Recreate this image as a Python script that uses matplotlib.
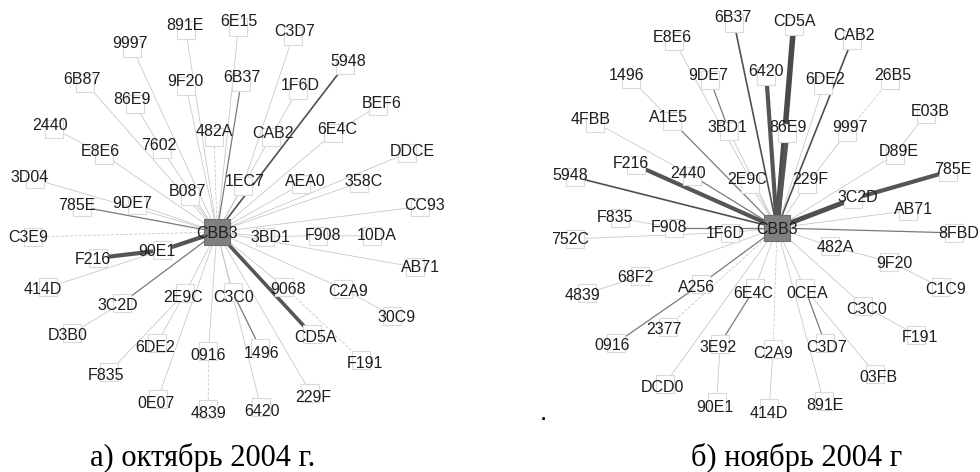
import numpy as np
import matplotlib.pyplot as plt
from matplotlib.patches import Rectangle

# --- данные: подписи узлов и их положение (пиксели исходной картинки) ---
hub = 'CBB3'

oct_names = ['891E', '6E15', 'C3D7', '9997', '5948', '9F20', '6B37', '1F6D', '6B87', '86E9',
             'BEF6', '2440', '482A', 'CAB2', '6E4C', '7602', 'E8E6', 'DDCE', '3D04', 'B087',
             '1EC7', 'AEA0', '358C', '9DE7', 'CC93', '785E', 'C3E9', '3BD1', 'F908', '10DA',
             'F216', '90E1', 'AB71', '414D', '9068', 'C2A9', '3C2D', '2E9C', 'C3C0', '30C9',
             'D3B0', '6DE2', '0916', '1496', 'CD5A', 'F191', 'F835', '0E07', '229F', '4839',
             '6420', hub]
oct_x = [185, 239, 295, 130, 348, 185, 242, 300, 82, 132,
         382, 50, 214, 273, 337, 159, 100, 412, 30, 187,
         245, 305, 364, 132, 425, 77, 28, 270, 323, 377,
         93, 157, 420, 43, 288, 348, 118, 183, 234, 397,
         68, 155, 208, 262, 315, 365, 106, 156, 313, 208,
         262, 217]
oct_y = [25, 22, 31, 43, 61, 81, 77, 86, 79, 100,
         103, 126, 132, 133, 130, 145, 152, 151, 178, 192,
         182, 182, 181, 203, 206, 206, 237, 237, 236, 236,
         259, 252, 268, 289, 290, 291, 306, 297, 297, 318,
         336, 347, 356, 353, 338, 363, 376, 404, 397, 414,
         412, 232]

# связи: (откуда, куда, вес, пунктир)
oct_edges = [('891E', hub, 1, 0), ('6E15', hub, 1, 0), ('C3D7', '1EC7', 1, 0), ('9997', hub, 1, 0),
             ('5948', hub, 2.5, 0), ('9F20', hub, 1, 0), ('6B37', hub, 2, 0), ('1F6D', 'CAB2', 1, 0),
             ('CAB2', hub, 1, 0), ('6B87', hub, 1, 0), ('86E9', '7602', 1, 0), ('7602', hub, 1, 0),
             ('BEF6', '6E4C', 1, 0), ('2440', 'E8E6', 1, 0), ('E8E6', hub, 1, 0), ('482A', hub, 1, 1),
             ('6E4C', hub, 1, 0), ('DDCE', hub, 1, 0), ('3D04', hub, 1, 0), ('B087', hub, 1, 0),
             ('1EC7', hub, 1, 0), ('AEA0', hub, 1, 0), ('358C', hub, 1, 0), ('9DE7', hub, 1, 0),
             ('CC93', hub, 1, 0), ('785E', hub, 2, 0), ('C3E9', hub, 1, 1), ('3BD1', hub, 1, 0),
             ('F908', '3BD1', 1, 0), ('10DA', 'F908', 1, 0), ('F216', '90E1', 4, 0), ('90E1', hub, 4, 0),
             ('AB71', hub, 1, 0), ('414D', '90E1', 1, 0), ('9068', hub, 1, 0), ('F191', '9068', 1, 1),
             ('C2A9', hub, 1, 0), ('30C9', 'C2A9', 1, 0), ('3C2D', hub, 2, 0), ('D3B0', '3C2D', 1, 0),
             ('2E9C', hub, 1, 0), ('6DE2', '2E9C', 1, 0), ('F835', '2E9C', 1, 0), ('C3C0', hub, 1, 0),
             ('1496', 'C3C0', 2, 0), ('0916', hub, 1, 0), ('4839', '0916', 1, 1), ('CD5A', hub, 3.5, 0),
             ('229F', hub, 1, 0), ('0E07', hub, 1, 0), ('6420', hub, 1, 0)]

nov_names = ['6B37', 'CD5A', 'CAB2', 'E8E6', '1496', '9DE7', '6420', '6DE2', '26B5', 'E03B',
             '4FBB', 'A1E5', '3BD1', '86E9', '9997', 'D89E', 'F216', '2440', '5948', '2E9C',
             '229F', '785E', '3C2D', 'AB71', 'F835', 'F908', '752C', '1F6D', '8FBD', '482A',
             '9F20', 'C1C9', '68F2', 'A256', '4839', '6E4C', '0CEA', 'C3C0', '2377', '0916',
             '3E92', 'C2A9', 'C3D7', 'F191', '03FB', 'DCD0', '90E1', '414D', '891E', hub]
nov_x = [733, 794, 854, 672, 627, 708, 766, 825, 893, 930,
         591, 668, 727, 788, 850, 899, 631, 688, 570, 747,
         810, 953, 858, 913, 615, 669, 570, 725, 959, 835,
         894, 946, 635, 697, 582, 753, 807, 867, 664, 612,
         718, 773, 827, 920, 878, 662, 715, 769, 825, 777]
nov_y = [18, 21, 35, 37, 75, 75, 71, 80, 76, 111,
         120, 117, 127, 128, 128, 152, 163, 173, 176, 180,
         180, 170, 197, 210, 218, 228, 239, 233, 233, 248,
         263, 289, 278, 287, 295, 293, 293, 309, 330, 346,
         348, 354, 348, 338, 378, 388, 407, 413, 406, 228]

nov_edges = [('E8E6', hub, 1, 0), ('9DE7', '3BD1', 2, 0), ('3BD1', hub, 1, 0), ('1496', 'A1E5', 1, 0),
             ('A1E5', hub, 2, 0), ('4FBB', '2440', 1, 0), ('2440', hub, 2, 0), ('F216', hub, 4, 0),
             ('5948', hub, 2.5, 0), ('6B37', hub, 2.5, 0), ('CD5A', hub, 5, 0), ('6420', hub, 4, 0),
             ('CAB2', hub, 2.5, 0), ('6DE2', hub, 1, 0), ('26B5', '9997', 1, 1), ('9997', '229F', 1, 0),
             ('229F', hub, 1, 0), ('86E9', hub, 4, 0), ('E03B', 'D89E', 1, 0), ('D89E', hub, 1, 0),
             ('785E', '3C2D', 4, 0), ('3C2D', hub, 4.5, 0), ('AB71', hub, 1, 0), ('2E9C', hub, 1, 0),
             ('8FBD', hub, 2, 0), ('482A', hub, 1, 0), ('9F20', '482A', 1, 0), ('C1C9', '9F20', 1, 0),
             ('C3C0', hub, 1, 0), ('F191', 'C3C0', 1, 0), ('03FB', '0CEA', 1, 0), ('C3D7', '0CEA', 2, 0),
             ('0CEA', hub, 1, 0), ('891E', hub, 1, 0), ('C2A9', hub, 1, 1), ('414D', 'C2A9', 1, 0),
             ('6E4C', hub, 1, 0), ('3E92', '6E4C', 2, 0), ('90E1', '3E92', 1, 0), ('DCD0', hub, 1, 0),
             ('A256', hub, 2, 0), ('0916', 'A256', 2, 0), ('2377', hub, 1, 1), ('68F2', hub, 1, 0),
             ('4839', '68F2', 1, 0), ('1F6D', hub, 1, 0), ('F908', hub, 2, 0), ('F835', 'F908', 1, 0),
             ('752C', '1F6D', 1, 0)]

captions = ['а) октябрь 2004 г.', 'б) ноябрь 2004 г']
caption_x = [203, 797]

# --- рисунок в пикселях ---
W, H = 980, 472
fig = plt.figure(figsize=(W / 100, H / 100), dpi=100)
ax = fig.add_axes([0, 0, 1, 1])
ax.set_xlim(0, W)
ax.set_ylim(H, 0)
ax.axis('off')

BOX = 18      # размер квадратика узла
HUB_BOX = 26
SHIFT = 5     # подпись сдвинута наружу от узла

# вес связи -> (толщина, серый)
STYLE = {1: (0.55, '#c4c4c4'), 2: (0.9, '#7a7a7a'), 2.5: (1.2, '#505050'),
         3.5: (2.6, '#555555'), 4: (3.0, '#555555'), 4.5: (3.6, '#4f4f4f'), 5: (4.0, '#4a4a4a')}


def draw_net(names, xs, ys, edges):
    lab = {n: np.array([x, y], float) for n, x, y in zip(names, xs, ys)}
    c = lab[hub]
    node = {}
    for n, p in lab.items():
        if n == hub:
            node[n] = p
            continue
        d = p - c
        node[n] = p - SHIFT * d / np.linalg.norm(d)

    for a, b, w, dash in edges:
        pa, pb = node[a], node[b]
        lw, col = STYLE[w]
        ax.plot([pa[0], pb[0]], [pa[1], pb[1]], color=col, lw=lw,
                ls=(0, (4, 2)) if dash else '-', solid_capstyle='butt', zorder=1)

    for n, p in node.items():
        if n == hub:
            ax.add_patch(Rectangle((p[0] - HUB_BOX / 2, p[1] - HUB_BOX / 2), HUB_BOX, HUB_BOX,
                                   facecolor='#808080', edgecolor='#6e6e6e', lw=0.8, zorder=3))
            ax.text(p[0], p[1] + 2, n, ha='center', va='center', fontsize=11.5,
                    family='Liberation Sans', color='#1e1e1e', zorder=4)
        else:
            ax.add_patch(Rectangle((p[0] - BOX / 2, p[1] - BOX / 2), BOX, BOX,
                                   facecolor='white', edgecolor='#dadada', lw=0.8, zorder=2))
            ax.text(lab[n][0], lab[n][1], n, ha='center', va='center', fontsize=11.5,
                    family='Liberation Sans', color='#1e1e1e', zorder=4)


draw_net(oct_names, oct_x, oct_y, oct_edges)
draw_net(nov_names, nov_x, nov_y, nov_edges)

ax.text(543, 416, '.', ha='center', va='center', fontsize=10, fontweight='bold', color='black')

for t, x in zip(captions, caption_x):
    ax.text(x, 458, t, ha='center', va='center', fontsize=22,
            family=['Liberation Serif', 'DejaVu Serif'], color='black')

fig.savefig('out.png', dpi=100)
